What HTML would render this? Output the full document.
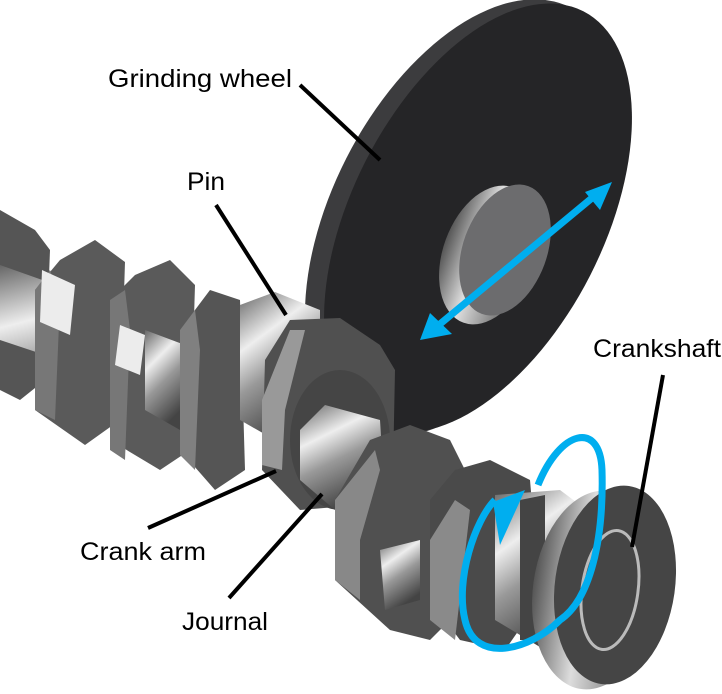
<!DOCTYPE html>
<html><head><meta charset="utf-8"><style>
html,body{margin:0;padding:0;background:#fff;width:722px;height:694px;overflow:hidden}
text{font-family:"Liberation Sans","Noto Sans CJK KR",sans-serif;font-size:25px;fill:#000}
</style></head><body>
<svg width="722" height="694" viewBox="0 0 722 694" xmlns="http://www.w3.org/2000/svg">
<defs>
<linearGradient id="cyl" x1="0" y1="0" x2="0.4" y2="1">
<stop offset="0" stop-color="#666"/><stop offset="0.35" stop-color="#eee"/><stop offset="0.6" stop-color="#999"/><stop offset="1" stop-color="#444"/></linearGradient>
<linearGradient id="cylh" x1="0" y1="0" x2="1" y2="0">
<stop offset="0" stop-color="#555"/><stop offset="0.4" stop-color="#ddd"/><stop offset="0.7" stop-color="#999"/><stop offset="1" stop-color="#555"/></linearGradient>
</defs>
<!-- grinding wheel -->
<ellipse cx="464" cy="218" rx="132" ry="236" transform="rotate(27 464 218)" fill="#3c3c3e"/>
<ellipse cx="478" cy="218" rx="126" ry="232" transform="rotate(27 478 218)" fill="#252527"/>
<ellipse cx="488" cy="255" rx="45" ry="72" transform="rotate(20 488 255)" fill="url(#cylh)"/>
<ellipse cx="505" cy="250" rx="42" ry="68" transform="rotate(20 505 250)" fill="#6c6c6e"/>
<!-- crankshaft left -->
<polygon points="0,210 35,230 50,250 45,380 20,400 0,390" fill="#555"/>
<polygon points="0,265 240,350 240,420 0,340" fill="url(#cyl)"/>
<polygon points="35,290 60,260 95,240 125,262 120,420 85,445 35,410" fill="#5a5a5a"/>
<polygon points="35,290 50,270 60,300 55,420 35,410" fill="#777"/>
<polygon points="42,270 75,285 70,335 40,322" fill="#ececec"/>
<polygon points="110,300 135,275 170,260 195,285 190,450 160,470 110,440" fill="#5a5a5a"/>
<polygon points="110,300 125,290 130,330 125,460 110,450" fill="#777"/>
<polygon points="120,325 145,335 140,375 115,365" fill="#ececec"/>
<polygon points="145,330 185,345 180,430 145,410" fill="url(#cyl)"/>
<polygon points="180,330 210,290 240,300 245,470 215,490 180,450" fill="#555"/>
<polygon points="180,330 195,310 200,350 195,470 180,455" fill="#808080"/>
<!-- pin -->
<polygon points="240,305 275,292 320,310 320,420 275,440 240,420" fill="url(#cyl)"/>
<!-- big arm -->
<polygon points="265,360 290,320 340,318 380,345 395,370 393,470 360,505 300,510 262,470" fill="#505050"/>
<polygon points="262,400 290,330 305,330 285,410 282,470 262,465" fill="#999"/>
<ellipse cx="340" cy="440" rx="50" ry="70" fill="#454545"/>
<!-- journal -->
<polygon points="300,430 325,405 380,420 385,500 335,510 300,480" fill="url(#cyl)"/>
<!-- arm 2 -->
<polygon points="335,500 370,440 410,425 450,440 465,470 460,610 430,640 390,630 335,580" fill="#505050"/>
<polygon points="335,500 375,450 380,470 360,540 360,600 335,580" fill="#888"/>
<polygon points="380,550 420,540 420,600 385,610" fill="url(#cyl)"/>
<!-- arm 3 -->
<polygon points="430,500 455,470 490,460 530,480 540,600 505,650 460,640 430,600" fill="#4a4a4a"/>
<polygon points="430,540 455,500 470,510 455,640 430,620" fill="#8a8a8a"/>
<!-- flange section -->
<polygon points="495,495 560,490 580,505 585,640 545,650 495,620" fill="url(#cyl)"/>
<polygon points="520,500 545,495 545,640 520,640" fill="#444"/>
<!-- end disc -->
<ellipse cx="595" cy="590" rx="62" ry="100" transform="rotate(8 595 590)" fill="url(#cylh)"/>
<ellipse cx="615" cy="585" rx="60" ry="100" transform="rotate(8 615 585)" fill="#454545"/>
<ellipse cx="610" cy="590" rx="28" ry="60" transform="rotate(8 610 590)" fill="none" stroke="#bbb" stroke-width="3"/>
<!-- blue arrows -->
<g stroke="#00aeef" fill="#00aeef">
<line x1="440" y1="324" x2="592" y2="198" stroke-width="7"/>
<polygon points="420,340 430,313 452,334" stroke="none"/>
<polygon points="612,182 585,192 600,210" stroke="none"/>
<path d="M538,485 C560,430 600,420 602,470 C604,540 590,600 560,620 C530,650 475,665 465,620 C455,580 475,520 495,500" fill="none" stroke-width="7"/>
<polygon points="493,502 525,490 500,545" stroke="none"/>
</g>
<!-- leader lines -->
<g stroke="#000" stroke-width="4">
<line x1="300" y1="85" x2="380" y2="160"/>
<line x1="216" y1="205" x2="286" y2="315"/>
<line x1="663" y1="375" x2="632" y2="547"/>
<line x1="148" y1="528" x2="276" y2="471"/>
<line x1="229" y1="598" x2="322" y2="494"/>
</g>
<text x="108" y="87" textLength="184" lengthAdjust="spacingAndGlyphs">Grinding wheel</text>
<text x="187" y="190" textLength="38" lengthAdjust="spacingAndGlyphs">Pin</text>
<text x="593" y="357" textLength="128" lengthAdjust="spacingAndGlyphs">Crankshaft</text>
<text x="80" y="560" textLength="126" lengthAdjust="spacingAndGlyphs">Crank arm</text>
<text x="182" y="630" textLength="86" lengthAdjust="spacingAndGlyphs">Journal</text>
</svg>
</body></html>
